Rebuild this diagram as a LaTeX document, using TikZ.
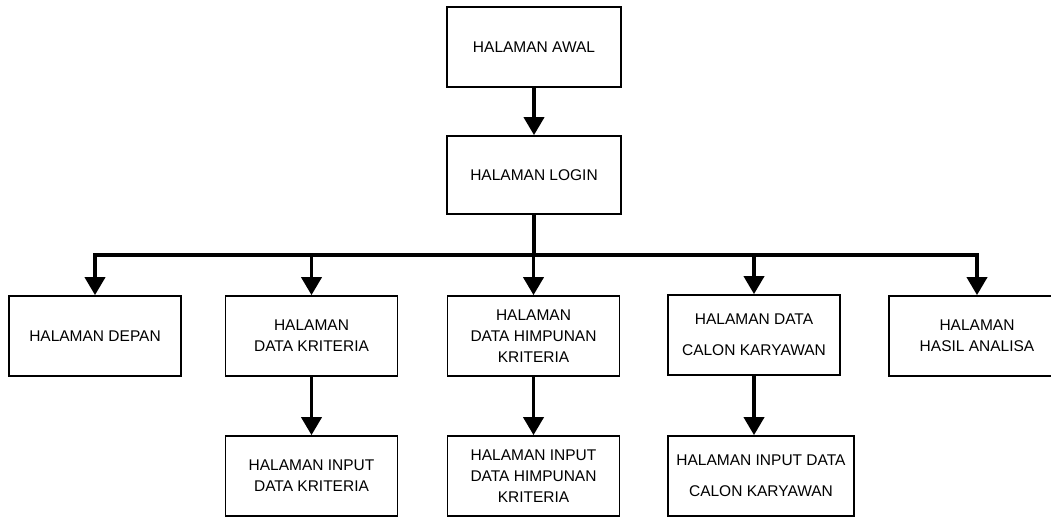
\documentclass[tikz,border=0pt]{standalone}
\usepackage{fontspec}
\setmainfont{Liberation Sans}
\usetikzlibrary{positioning,arrows.meta}

\begin{document}
\begin{tikzpicture}[x=1pt,y=-1pt,
    page/.style={draw, line width=1.7pt, minimum width=172pt, minimum height=80pt,
      inner sep=0pt, align=center, font=\fontsize{15.5}{21}\selectfont},
    link/.style={line width=3.8pt, -{Triangle[width=20pt,length=18pt]}},
    bus/.style={line width=3.8pt, line cap=rect}]
    \useasboundingbox (0,0) rectangle (1051,518);

    % Top
    \node[page, minimum width=174pt] (awal) at (534,47) {HALAMAN AWAL};
    \node[page, minimum width=174pt, minimum height=78pt] (login) at (534,175) {HALAMAN LOGIN};

    % Menu pages
    \node[page] (depan) at (95,336) {HALAMAN DEPAN};
    \node[page] (kriteria) at (311.5,336) {HALAMAN\\DATA KRITERIA};
    \node[page] (himpunan) at (533.5,336) {HALAMAN\\DATA HIMPUNAN\\KRITERIA};
    \node[page] (calon) at (754,335) {HALAMAN DATA\\[10pt]CALON KARYAWAN};
    \node[page, minimum width=176pt] (hasil) at (977,336) {HALAMAN\\HASIL ANALISA};

    % Input pages
    \node[page] (inkriteria) at (311.5,476) {HALAMAN INPUT\\DATA KRITERIA};
    \node[page] (inhimpunan) at (533.5,476) {HALAMAN INPUT\\DATA HIMPUNAN\\KRITERIA};
    \node[page, minimum width=186pt] (incalon) at (761,476) {HALAMAN INPUT DATA\\[10pt]CALON KARYAWAN};

    % Connectors
    \draw[link] (awal) -- (login);
    \coordinate (bar) at (534,255);
    \draw[bus] (login) -- (bar);
    \draw[bus] (depan.north |- bar) -- (hasil.north |- bar);
    \foreach \p in {depan,kriteria,himpunan,calon,hasil}
        \draw[link] (\p.north |- bar) -- (\p);
    \draw[link] (kriteria) -- (inkriteria);
    \draw[link] (himpunan) -- (inhimpunan);
    \draw[link] (calon.south) -- (calon.south |- incalon.north);
\end{tikzpicture}
\end{document}
